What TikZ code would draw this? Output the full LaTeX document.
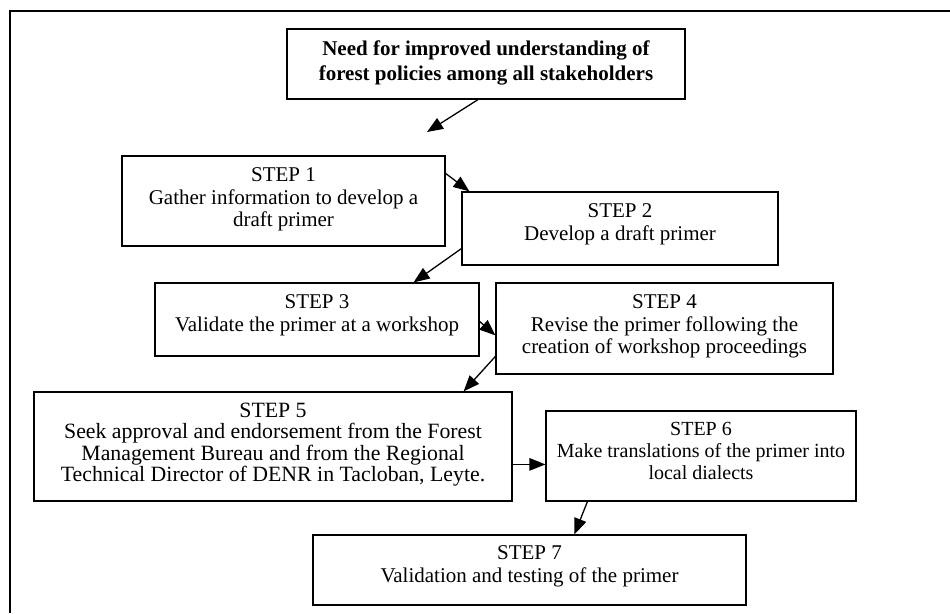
\documentclass[tikz,border=0pt]{standalone}
\usepackage{fontspec}
\setmainfont{Liberation Serif}
\usetikzlibrary{arrows.meta,calc}
\begin{document}
\begin{tikzpicture}[x=1pt,y=-1pt,
  box/.style={draw,line width=1.2pt,inner sep=0pt},
  lbl/.style={align=center,font=\fontsize{21}{22.5}\selectfont,inner sep=0pt,anchor=north},
  arr/.style={line width=1.3pt,-{Triangle[length=16pt,width=12.5pt]}}]
\useasboundingbox (0,0) rectangle (950,613);
\fill[white] (0,0) rectangle (950,613);
\draw[line width=2pt] (10,613) -- (10,11) -- (950,11);

\node[box,minimum width=398pt,minimum height=70pt] (top) at (486,64) {};
\node[lbl,font=\bfseries\fontsize{21}{25}\selectfont] at ($(top.north)+(0,12)$)
  {Need for improved understanding of\\forest policies among all stakeholders};

\node[box,minimum width=323pt,minimum height=90pt] (s1) at (283.5,201) {};
\node[lbl] at ($(s1.north)+(0,12)$) {STEP 1\\Gather information to develop a\\draft primer};

\node[box,minimum width=316pt,minimum height=73pt] (s2) at (620,228.5) {};
\node[lbl] at ($(s2.north)+(0,12)$) {STEP 2\\Develop a draft primer};

\node[box,minimum width=324pt,minimum height=73pt] (s3) at (317,319.5) {};
\node[lbl] at ($(s3.north)+(0,12)$) {STEP 3\\Validate the primer at a workshop};

\node[box,minimum width=337pt,minimum height=91pt] (s4) at (664.5,328.5) {};
\node[lbl] at ($(s4.north)+(0,12)$) {STEP 4\\Revise the primer following the\\creation of workshop proceedings};

\node[box,minimum width=478pt,minimum height=109pt] (s5) at (273,446.5) {};
\node[lbl,font=\fontsize{21.8}{21.3}\selectfont] at ($(s5.north)+(0,11.5)$) {STEP 5\\Seek approval and endorsement from the Forest\\Management Bureau and from the Regional\\Technical Director of DENR in Tacloban, Leyte.};

\node[box,minimum width=310pt,minimum height=90pt] (s6) at (701,456) {};
\node[lbl,font=\fontsize{20}{22}\selectfont] at ($(s6.north)+(0,12)$) {STEP 6\\Make translations of the primer into\\local dialects};

\node[box,minimum width=433pt,minimum height=70pt] (s7) at (529.5,570) {};
\node[lbl] at ($(s7.north)+(0,11)$) {STEP 7\\Validation and testing of the primer};

\coordinate (c0) at (427,132);
\draw[arr] ($(top.south)+(-8,0)$) -- (c0);
\draw[arr] ($(s1.north east)+(0,18)$) -- ($(s2.north west)+(8,0)$);
\draw[arr] ($(s2.south west)+(0,-17)$) -- ($(s3.north east)+(-66,0)$);
\draw[arr] ($(s3.north east)+(0,39)$) -- ($(s4.north west)+(0,53)$);
\draw[arr] ($(s4.north west)+(0,74)$) -- ($(s5.north east)+(-49,0)$);
\draw[arr] ($(s5.north east)+(0,73)$) -- ($(s6.north west)+(0,54)$);
\draw[arr] ($(s6.south west)+(42,0)$) -- ($(s7.north west)+(262,0)$);
\end{tikzpicture}
\end{document}
